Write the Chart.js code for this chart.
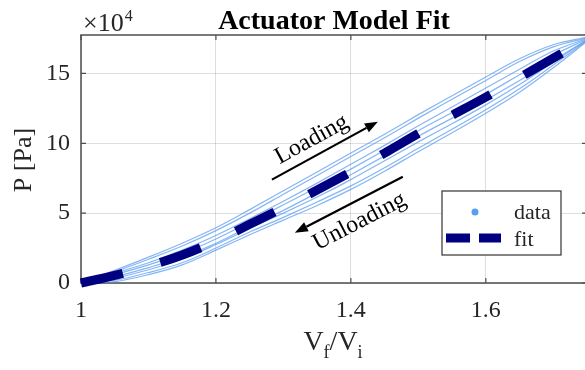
<!DOCTYPE html>
<html>
<head>
<meta charset="utf-8">
<script src="https://cdn.jsdelivr.net/npm/chart.js@4.4.1/dist/chart.umd.min.js"></script>
<style>
  html, body { margin: 0; padding: 0; background: #fff; overflow: hidden; }
</style>
</head>
<body>
<canvas id="fit-chart" width="590" height="370"></canvas>
<script>
/* Actuator model fit: pressure vs volume ratio, hysteresis loops + fitted curve */

// Vf/Vi sample points (shared by every branch)
const volumeRatio = [1.00, 1.05, 1.10, 1.15, 1.20, 1.25, 1.30, 1.35, 1.40, 1.45, 1.50, 1.55, 1.60, 1.65, 1.70, 1.75];

// pressures, in units of 1e4 Pa
const fitPressure  = [0, 0.55, 1.2, 2.0, 3.0, 4.2, 5.4, 6.65, 7.95, 9.3, 10.7, 12.0, 13.3, 14.7, 16.1, 17.45];

const loopALoad    = [0, 0.9, 1.85, 2.85, 3.95, 5.25, 6.6, 7.95, 9.3, 10.65, 12.05, 13.4, 14.75, 16.05, 17.05, 17.6];
const loopAUnload  = [0, 0.1, 0.6, 1.3, 2.35, 3.45, 4.5, 5.55, 6.7, 8.0, 9.4, 10.75, 12.15, 13.65, 15.4, 17.3];
const loopBLoad    = [0, 0.8, 1.7, 2.65, 3.75, 5.0, 6.35, 7.7, 9.05, 10.4, 11.8, 13.15, 14.5, 15.85, 16.9, 17.55];
const loopBUnload  = [0, 0.2, 0.75, 1.45, 2.5, 3.65, 4.7, 5.8, 6.95, 8.25, 9.65, 11.0, 12.4, 13.9, 15.6, 17.35];
const loopCLoad    = [0, 0.7, 1.45, 2.35, 3.4, 4.6, 5.85, 7.15, 8.5, 9.85, 11.25, 12.6, 13.95, 15.3, 16.6, 17.5];
const loopCUnload  = [0, 0.35, 0.95, 1.7, 2.75, 3.9, 5.0, 6.15, 7.4, 8.75, 10.1, 11.4, 12.75, 14.2, 15.8, 17.4];
const loopDLoad    = [0, 0.6, 1.3, 2.1, 3.15, 4.35, 5.6, 6.85, 8.15, 9.5, 10.9, 12.2, 13.5, 14.9, 16.3, 17.45];
const loopDUnload  = [0, 0.45, 1.1, 1.85, 2.85, 4.05, 5.2, 6.45, 7.75, 9.1, 10.5, 11.8, 13.1, 14.5, 15.95, 17.4];

const xTicks = [1, 1.2, 1.4, 1.6];
const yTicks = [0, 5, 10, 15];

const SERIF = "'Liberation Serif', 'Times New Roman', serif";
const DATA_COLOR = 'rgba(80,150,240,0.7)';
const FIT_COLOR = '#000080';

const pts = ys => volumeRatio.map((x, i) => ({ x, y: ys[i] }));

const dataBranch = ys => ({
  data: pts(ys), showLine: true, borderColor: DATA_COLOR, borderWidth: 1.2,
  pointRadius: 0, cubicInterpolationMode: 'monotone', order: 2,
});

// annotation placement in data space
const notes = {
  loading:   { from: [1.283, 7.4], to: [1.44, 11.55], text: 'Loading',   at: [1.342, 10.26] },
  unloading: { from: [1.477, 7.6], to: [1.317, 3.6],  text: 'Unloading', at: [1.413, 4.39] },
};

function arrow(ctx, x0, y0, x1, y1) {
  const ang = Math.atan2(y1 - y0, x1 - x0), hl = 13, hw = 5;
  const bx = x1 - hl * Math.cos(ang), by = y1 - hl * Math.sin(ang);
  ctx.beginPath(); ctx.moveTo(x0, y0); ctx.lineTo(bx, by); ctx.stroke();
  ctx.beginPath();
  ctx.moveTo(x1, y1);
  ctx.lineTo(bx + hw * Math.sin(ang), by - hw * Math.cos(ang));
  ctx.lineTo(bx - hw * Math.sin(ang), by + hw * Math.cos(ang));
  ctx.closePath(); ctx.fill();
}

const decor = {
  id: 'decor',
  beforeDatasetsDraw(chart) {
    const { ctx, chartArea: a, scales: { x, y } } = chart;
    ctx.save();
    ctx.strokeStyle = '#4d4d4d'; ctx.lineWidth = 1.5;
    ctx.strokeRect(a.left, a.top, a.right - a.left, a.bottom - a.top);
    ctx.lineWidth = 1.2;
    xTicks.forEach(v => {
      const px = x.getPixelForValue(v);
      ctx.beginPath();
      ctx.moveTo(px, a.bottom); ctx.lineTo(px, a.bottom - 5);
      ctx.moveTo(px, a.top); ctx.lineTo(px, a.top + 5);
      ctx.stroke();
    });
    yTicks.forEach(v => {
      const py = y.getPixelForValue(v);
      ctx.beginPath();
      ctx.moveTo(a.left, py); ctx.lineTo(a.left + 5, py);
      ctx.moveTo(a.right, py); ctx.lineTo(a.right - 5, py);
      ctx.stroke();
    });
    ctx.restore();
  },
  afterDraw(chart) {
    const { ctx, chartArea: a, scales: { x, y } } = chart;
    ctx.save();
    ctx.fillStyle = '#000';

    // title
    ctx.font = `bold 28px ${SERIF}`;
    ctx.textAlign = 'center'; ctx.textBaseline = 'alphabetic';
    ctx.fillText('Actuator Model Fit', (a.left + a.right) / 2, 29);

    // exponent label
    ctx.fillStyle = '#262626';
    ctx.textAlign = 'left';
    ctx.font = `26px ${SERIF}`;
    ctx.fillText('\u00d710', 83, 31);
    const w10 = ctx.measureText('\u00d710').width;
    ctx.font = `16px ${SERIF}`;
    ctx.fillText('4', 83 + w10 + 1, 21);

    // y title
    ctx.save();
    ctx.translate(24, 160); ctx.rotate(-Math.PI / 2);
    ctx.font = `26px ${SERIF}`; ctx.textAlign = 'center'; ctx.textBaseline = 'middle';
    ctx.fillText('P [Pa]', 0, 0);
    ctx.restore();

    // x title  V_f / V_i
    const parts = [['V', 28, 0], ['f', 18, 8], ['/', 28, 0], ['V', 28, 0], ['i', 18, 8]];
    let total = 0;
    parts.forEach(p => { ctx.font = `${p[1]}px ${SERIF}`; p.push(ctx.measureText(p[0]).width); total += p[3]; });
    let cx = 333 - total / 2;
    parts.forEach(p => { ctx.font = `${p[1]}px ${SERIF}`; ctx.fillText(p[0], cx, 350 + p[2]); cx += p[3]; });

    // annotations
    ctx.fillStyle = '#000'; ctx.strokeStyle = '#000'; ctx.lineWidth = 2.2;
    Object.values(notes).forEach(n => {
      const x0 = x.getPixelForValue(n.from[0]), y0 = y.getPixelForValue(n.from[1]);
      const x1 = x.getPixelForValue(n.to[0]), y1 = y.getPixelForValue(n.to[1]);
      arrow(ctx, x0, y0, x1, y1);
      let ang = Math.atan2(y1 - y0, x1 - x0);
      if (x1 < x0) ang = Math.atan2(y0 - y1, x0 - x1);
      ctx.save();
      ctx.translate(x.getPixelForValue(n.at[0]), y.getPixelForValue(n.at[1]));
      ctx.rotate(ang);
      ctx.font = `24px ${SERIF}`; ctx.textAlign = 'center'; ctx.textBaseline = 'middle';
      ctx.fillText(n.text, 0, 0);
      ctx.restore();
    });

    // legend
    ctx.fillStyle = '#fff'; ctx.strokeStyle = '#333'; ctx.lineWidth = 1.2;
    ctx.fillRect(442, 191, 119, 64); ctx.strokeRect(442, 191, 119, 64);
    ctx.fillStyle = 'rgb(85,160,240)';
    ctx.beginPath(); ctx.arc(475, 212, 3.5, 0, Math.PI * 2); ctx.fill();
    ctx.strokeStyle = FIT_COLOR; ctx.lineWidth = 9; ctx.setLineDash([24, 9]);
    ctx.beginPath(); ctx.moveTo(446, 238); ctx.lineTo(501, 238); ctx.stroke();
    ctx.setLineDash([]);
    ctx.fillStyle = '#262626'; ctx.font = `22px ${SERIF}`; ctx.textAlign = 'left';
    ctx.fillText('data', 514, 219);
    ctx.fillText('fit', 514, 246);
    ctx.restore();
  }
};

new Chart(document.getElementById('fit-chart'), {
  type: 'scatter',
  data: {
    datasets: [
      {
        data: pts(fitPressure), showLine: true, borderColor: FIT_COLOR, borderWidth: 9,
        borderDash: [43, 39], borderCapStyle: 'butt', pointRadius: 0,
        cubicInterpolationMode: 'monotone', clip: false, order: 1,
      },
      dataBranch(loopALoad), dataBranch(loopAUnload),
      dataBranch(loopBLoad), dataBranch(loopBUnload),
      dataBranch(loopCLoad), dataBranch(loopCUnload),
      dataBranch(loopDLoad), dataBranch(loopDUnload),
    ]
  },
  options: {
    responsive: false,
    animation: false,
    layout: { padding: { left: 0, right: 3, top: 35, bottom: 0 } },
    plugins: { legend: { display: false }, title: { display: false }, tooltip: { enabled: false } },
    scales: {
      x: {
        type: 'linear', min: 1, max: 1.75,
        afterBuildTicks: s => { s.ticks = xTicks.map(v => ({ value: v })); },
        afterFit: s => { s.height = 87; },
        ticks: {
          color: '#262626', padding: 13, font: { family: SERIF, size: 24 },
          callback: v => String(Math.round(v * 10) / 10),
        },
        grid: { color: 'rgba(0,0,0,0.13)', drawTicks: false },
        border: { display: false },
      },
      y: {
        type: 'linear', min: 0, max: 17.75,
        afterBuildTicks: s => { s.ticks = yTicks.map(v => ({ value: v })); },
        afterFit: s => { s.width = 81; },
        ticks: {
          color: '#262626', padding: 11, font: { family: SERIF, size: 24 },
          callback: v => String(v),
        },
        grid: { color: 'rgba(0,0,0,0.13)', drawTicks: false },
        border: { display: false },
      }
    }
  },
  plugins: [decor]
});
</script>
</body>
</html>
